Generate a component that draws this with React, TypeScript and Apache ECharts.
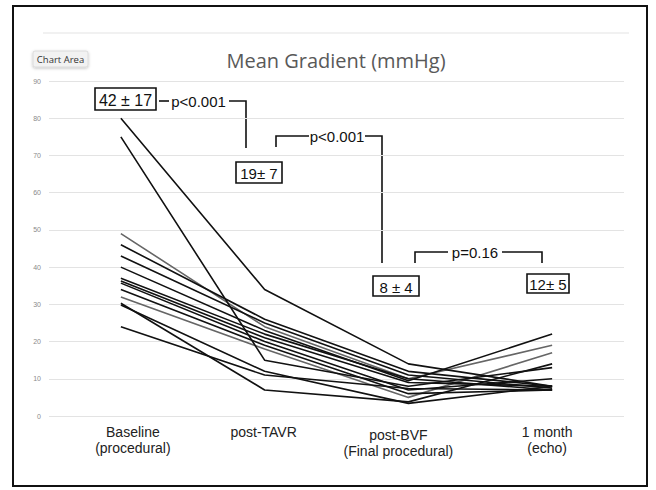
import React, { useEffect, useRef } from "react";
import * as echarts from "echarts";

const categories = ["Baseline\n(procedural)", "post-TAVR", "post-BVF\n(Final procedural)", "1 month\n(echo)"];
const yTicks = [0, 10, 20, 30, 40, 50, 60, 70, 80, 90];

// one array per patient: baseline, post-TAVR, post-BVF, 1 month
const p1 = [80, 34, 14, 8];
const p2 = [75, 15, 8, 13];
const p3 = [49, 24, 10, 19];
const p4 = [46, 26, 12, 8];
const p5 = [43, 25, 11, 7.5];
const p6 = [40, 23, 9.5, 22];
const p7 = [37, 22, 10, 7];
const p8 = [36.3, 21, 9, 8];
const p9 = [35.7, 20, 7, 10];
const p10 = [34, 19, 6, 7];
const p11 = [32, 18, 5, 17];
const p12 = [30.3, 7, 3.8, 14];
const p13 = [29.8, 12, 3.4, 8];
const p14 = [24, 11, 7.4, 7];
const patients = [p1, p2, p3, p4, p5, p6, p7, p8, p9, p10, p11, p12, p13, p14];
const grayPatients = [2, 10];

const title = "Mean Gradient (mmHg)";
const statLabels = ["42 ± 17", "19± 7", "8 ± 4", "12± 5"];
const pLabels = ["p<0.001", "p<0.001", "p=0.16"];

export default function App() {
  const ref = useRef<HTMLDivElement>(null);
  useEffect(() => {
    const chart = echarts.init(ref.current!, null, { renderer: "svg" });
    const font = "'Liberation Sans', Arial, sans-serif";
    const labelShift = [
      { padding: [0, 0, 0, 24] },
      { padding: [0, 2, 0, 0] },
      { padding: [3, 20, 0, 0] },
      { padding: [0, 10, 0, 0] },
    ];
    const box = (x: number, y: number, w: number, h: number, text: string, fs: number) => ({
      type: "group",
      children: [
        { type: "rect", shape: { x, y, width: w, height: h }, style: { fill: "#fff", stroke: "#111", lineWidth: 1.6 } },
        {
          type: "text",
          x: x + w / 2,
          y: y + h / 2 + 1,
          style: { text, fill: "#111", font: `${fs}px ${font}`, textAlign: "center", textVerticalAlign: "middle" },
        },
      ],
    });
    const pText = (x: number, y: number, text: string) => ({
      type: "text",
      x,
      y,
      style: { text, fill: "#111", font: `15px ${font}`, textAlign: "center", textVerticalAlign: "middle" },
    });
    const pl = (points: number[][]) => ({
      type: "polyline",
      shape: { points },
      style: { stroke: "#111", lineWidth: 1.6, fill: "none" },
    });
    chart.setOption({
      animation: false,
      backgroundColor: "#fff",
      grid: { left: 49, right: 32, top: 81, bottom: 74 },
      xAxis: {
        type: "category",
        boundaryGap: true,
        data: categories.map((c, i) => ({ value: c, textStyle: labelShift[i] })),
        axisLine: { show: false },
        axisTick: { show: false },
        axisLabel: { color: "#222", fontSize: 14, fontFamily: font, lineHeight: 16, margin: 8, interval: 0 },
      },
      yAxis: {
        type: "value",
        min: yTicks[0],
        max: yTicks[yTicks.length - 1],
        interval: 10,
        axisLine: { show: false },
        axisTick: { show: false },
        axisLabel: { color: "#8a8a8a", fontSize: 7, fontFamily: font, margin: 8 },
        splitLine: { lineStyle: { color: "#e3e3e3", width: 1 } },
      },
      series: patients.map((d, i) => ({
        type: "line",
        data: d,
        symbol: "none",
        lineStyle: { color: grayPatients.includes(i) ? "#666" : "#111", width: 1.6 },
        z: grayPatients.includes(i) ? 2 : 3,
      })),
      graphic: [
        { type: "rect", shape: { x: 13, y: 6, width: 634, height: 480 }, style: { fill: "none", stroke: "#111", lineWidth: 2 }, silent: true },
        { type: "line", shape: { x1: 43, y1: 33, x2: 629, y2: 33 }, style: { stroke: "#e3e3e3", lineWidth: 1 } },
        {
          type: "text",
          x: 336,
          y: 60,
          style: { text: title, fill: "#595959", font: "20px 'Open Sans', sans-serif", textAlign: "center", textVerticalAlign: "middle" },
        },
        {
          type: "group",
          children: [
            {
              type: "rect",
              shape: { x: 33, y: 51, width: 55, height: 16, r: 2 },
              style: { fill: "#f2f2f2", stroke: "#d5d5d5", lineWidth: 0.8, shadowBlur: 3, shadowColor: "rgba(0,0,0,0.25)", shadowOffsetY: 1 },
            },
            {
              type: "text",
              x: 60.5,
              y: 59.5,
              style: { text: "Chart Area", fill: "#333", font: "9.5px 'Open Sans', sans-serif", textAlign: "center", textVerticalAlign: "middle" },
            },
          ],
        },
        box(95, 88, 61, 22, statLabels[0], 16),
        box(236, 162, 46, 21, statLabels[1], 15),
        box(373, 276, 46, 20, statLabels[2], 15),
        box(527, 274, 42, 19, statLabels[3], 15),
        pl([[159, 101], [169, 101]]),
        pText(198.5, 101, pLabels[0]),
        pl([[229, 101], [246, 101], [246, 148]]),
        pl([[276, 147], [276, 136], [309, 136]]),
        pText(337, 136, pLabels[1]),
        pl([[365, 136], [382, 136], [382, 263]]),
        pl([[415, 263], [415, 252], [448, 252]]),
        pText(475, 252, pLabels[2]),
        pl([[502, 252], [542, 252], [542, 263]]),
      ],
    });
    return () => chart.dispose();
  }, []);
  return <div ref={ref} style={{ position: "absolute", left: 0, top: 0, width: 656, height: 490 }} />;
}
